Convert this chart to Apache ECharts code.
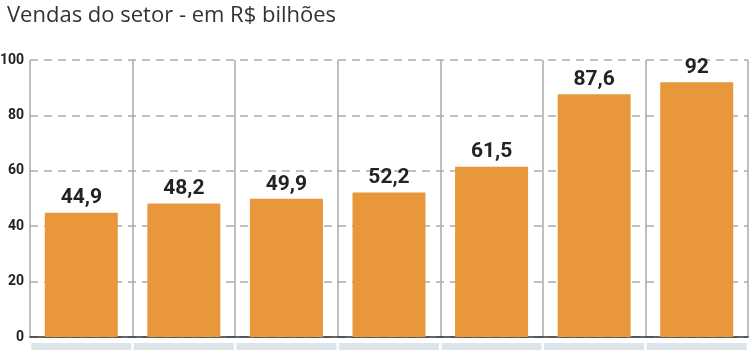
<!DOCTYPE html>
<html><head><meta charset="utf-8">
<script src="https://cdn.jsdelivr.net/npm/echarts@6/dist/echarts.min.js"></script>
<style>html,body{margin:0;padding:0;background:#fff}#c{width:750px;height:350px}</style>
</head><body><div id="c"></div>
<script>
const title = 'Vendas do setor - em R$ bilhões';
const categories = ['2007','2008','2009','2010','2011','2012','2013'];
const values = [44.9, 48.2, 49.9, 52.2, 61.5, 87.6, 92];
const yTicks = [0, 20, 40, 60, 80, 100];

const chart = echarts.init(document.getElementById('c'));
chart.setOption({
  animation: false,
  title: {
    text: title, left: 2, top: 0,
    textStyle: { fontFamily: 'Open Sans', fontWeight: 'normal', fontSize: 22, color: '#333' }
  },
  grid: { left: 30, right: 2, top: 60, bottom: 13, outerBoundsMode: 'none', containLabel: false },
  xAxis: {
    type: 'category', data: categories,
    axisLine: { lineStyle: { color: '#333', width: 1.5 } },
    axisTick: { show: false },
    splitLine: { show: true, lineStyle: { color: '#aaa', width: 1.5 } },
    axisLabel: {
      margin: 6, interval: 0,
      formatter: () => '{b| }',
      rich: { b: { width: 100, height: 20, backgroundColor: '#dde4ea' } }
    }
  },
  yAxis: {
    type: 'value', min: yTicks[0], max: yTicks[yTicks.length - 1], interval: 20,
    axisLine: { show: false }, axisTick: { show: false },
    axisLabel: { margin: 6, fontFamily: 'Roboto', fontWeight: 'bold', fontSize: 14, color: '#222' },
    splitLine: { lineStyle: { color: '#aaa', type: [8, 6], width: 1.5 } }
  },
  series: [{
    type: 'bar', data: values, barWidth: 73,
    itemStyle: { color: '#E8983A' },
    label: {
      show: true, position: 'top', distance: 4,
      formatter: p => String(p.value).replace('.', ','),
      fontFamily: 'Roboto', fontWeight: 'bold', fontSize: 21, color: '#222'
    }
  }]
});
</script></body></html>
